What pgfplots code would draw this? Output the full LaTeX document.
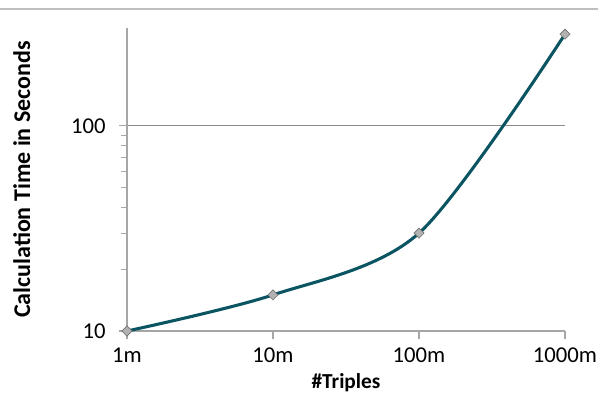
\documentclass[border=0pt]{standalone}
\usepackage{fontspec}
\setmainfont{Carlito}
\usepackage{pgfplots}
\pgfplotsset{compat=1.18}
\definecolor{lineteal}{HTML}{0B5563}
\definecolor{axisgray}{HTML}{A6A6A6}
\begin{document}
\begin{tikzpicture}[x=0.75pt,y=0.75pt]
\useasboundingbox (-127,-70) rectangle (471,331);
% chart frame top edge
\draw[color=black!25, line width=1.1pt] (-127,322) -- (471,322);
\begin{axis}[
  at={(0,0)}, anchor=south west,
  scale only axis, width=328.5pt, height=227.25pt,
  xmode=log, ymode=log,
  xmin=1, xmax=1000, ymin=10, ymax=300,
  xtick={1,10,100,1000}, xticklabels={1m,10m,100m,1000m},
  xminorticks=false,
  ytick={10,100}, yticklabels={10,100},
  axis x line*=bottom, axis y line*=left,
  axis line style={axisgray, line width=0.8pt},
  tick style={axisgray, line width=0.8pt},
  tick align=outside,
  major tick length=6pt, minor tick length=4.5pt,
  ymajorgrids, grid style={black!45, line width=0.6pt},
  tick label style={font=\fontsize{17}{20}\selectfont, black},
  xticklabel style={yshift=-3pt},
  yticklabel style={xshift=-6.5pt},
  xlabel={\bfseries\#Triples},
  ylabel={\bfseries Calculation Time in Seconds},
  xlabel style={font=\fontsize{16}{19}\selectfont,
    at={(axis description cs:0.5,-0.172)}, anchor=center},
  ylabel style={font=\fontsize{18}{21}\selectfont,
    at={(axis description cs:-0.24,0.5)}, anchor=center},
  clip=false,
]
\addplot[lineteal, line width=2.3pt, smooth, tension=0.5,
  mark=square*, mark size=2.7pt,
  mark options={rotate=45, fill=gray!60, draw=gray!90!black, line width=0.5pt}]
  coordinates {(1,10) (10,15) (100,30) (1000,280)};
\end{axis}
\end{tikzpicture}
\end{document}
